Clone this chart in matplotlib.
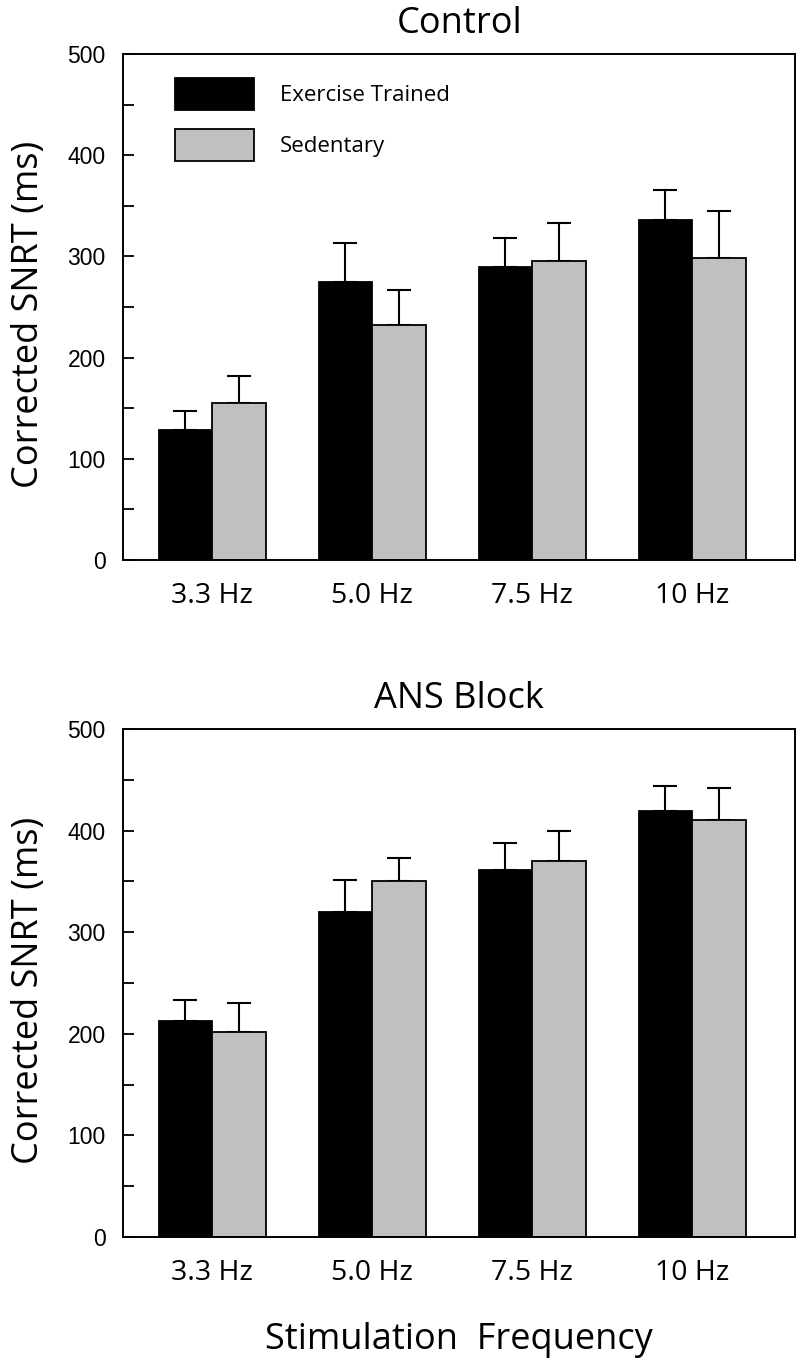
import matplotlib
matplotlib.use("Agg")
import matplotlib.pyplot as plt
import numpy as np
from matplotlib.ticker import MultipleLocator

plt.rcParams['font.family'] = ['Open Sans', 'DejaVu Sans']

categories = ["3.3 Hz", "5.0 Hz", "7.5 Hz", "10 Hz"]
series_names = ["Exercise Trained", "Sedentary"]

control_trained = [128, 275, 290, 336]
control_trained_err = [19, 38, 28, 30]
control_sedentary = [155, 232, 295, 298]
control_sedentary_err = [27, 35, 38, 47]

ans_trained = [213, 320, 361, 419]
ans_trained_err = [20, 31, 27, 25]
ans_sedentary = [202, 350, 370, 410]
ans_sedentary_err = [28, 23, 30, 32]

titles = ["Control", "ANS Block"]
ylabel = "Corrected SNRT (ms)"
xlabel = "Stimulation  Frequency"

fig = plt.figure(figsize=(8, 13.62), dpi=100)
ax1 = fig.add_axes([0.154, 0.5888, 0.840, 0.3716])
ax2 = fig.add_axes([0.154, 0.0918, 0.840, 0.3730])

x = np.arange(len(categories))
w = 0.335

panels = [
    (ax1, control_trained, control_trained_err, control_sedentary, control_sedentary_err, titles[0]),
    (ax2, ans_trained, ans_trained_err, ans_sedentary, ans_sedentary_err, titles[1]),
]

for i, (ax, t, te, s, se, title) in enumerate(panels):
    ax.bar(x - w / 2, t, w, color='black', edgecolor='black', linewidth=1.3,
           label=series_names[0], zorder=2)
    ax.bar(x + w / 2, s, w, color='#c0c0c0', edgecolor='black', linewidth=1.3,
           label=series_names[1], zorder=2)
    ax.errorbar(x - w / 2, t, yerr=[np.zeros(len(t)), te], fmt='none',
                ecolor='black', elinewidth=1.5, capsize=8.5, capthick=1.5, zorder=1)
    ax.errorbar(x + w / 2, s, yerr=[np.zeros(len(s)), se], fmt='none',
                ecolor='black', elinewidth=1.5, capsize=8.5, capthick=1.5, zorder=1)
    ax.set_xlim(-0.556, 3.644)
    ax.set_ylim(0, 500)
    ax.yaxis.set_major_locator(MultipleLocator(100))
    ax.yaxis.set_minor_locator(MultipleLocator(50))
    ax.tick_params(axis='y', which='both', direction='in', length=8, width=1.3,
                   labelsize=16.5, pad=12.5)
    for lab in ax.get_yticklabels():
        lab.set_fontfamily(['Liberation Sans', 'DejaVu Sans'])
    ax.set_xticks(x)
    ax.set_xticklabels(categories)
    ax.tick_params(axis='x', length=0, labelsize=20.5, pad=16)
    for sp in ax.spines.values():
        sp.set_linewidth(1.4)
    ax.set_title(title, fontsize=26, pad=15)
    ax.set_ylabel(ylabel, fontsize=26, labelpad=15)
    ax.yaxis.label.set_y(0.485)

fig.text(459 / 800, 1 - 1349 / 1362, xlabel, fontsize=26, ha='center', va='baseline')

ax1.legend(loc='upper left', bbox_to_anchor=(0.0774, 0.9526), frameon=False,
           fontsize=16, handlelength=3.55, handleheight=1.84, labelspacing=0.86,
           handletextpad=1.15, borderaxespad=0, borderpad=0)

fig.savefig("out.png", dpi=100)
